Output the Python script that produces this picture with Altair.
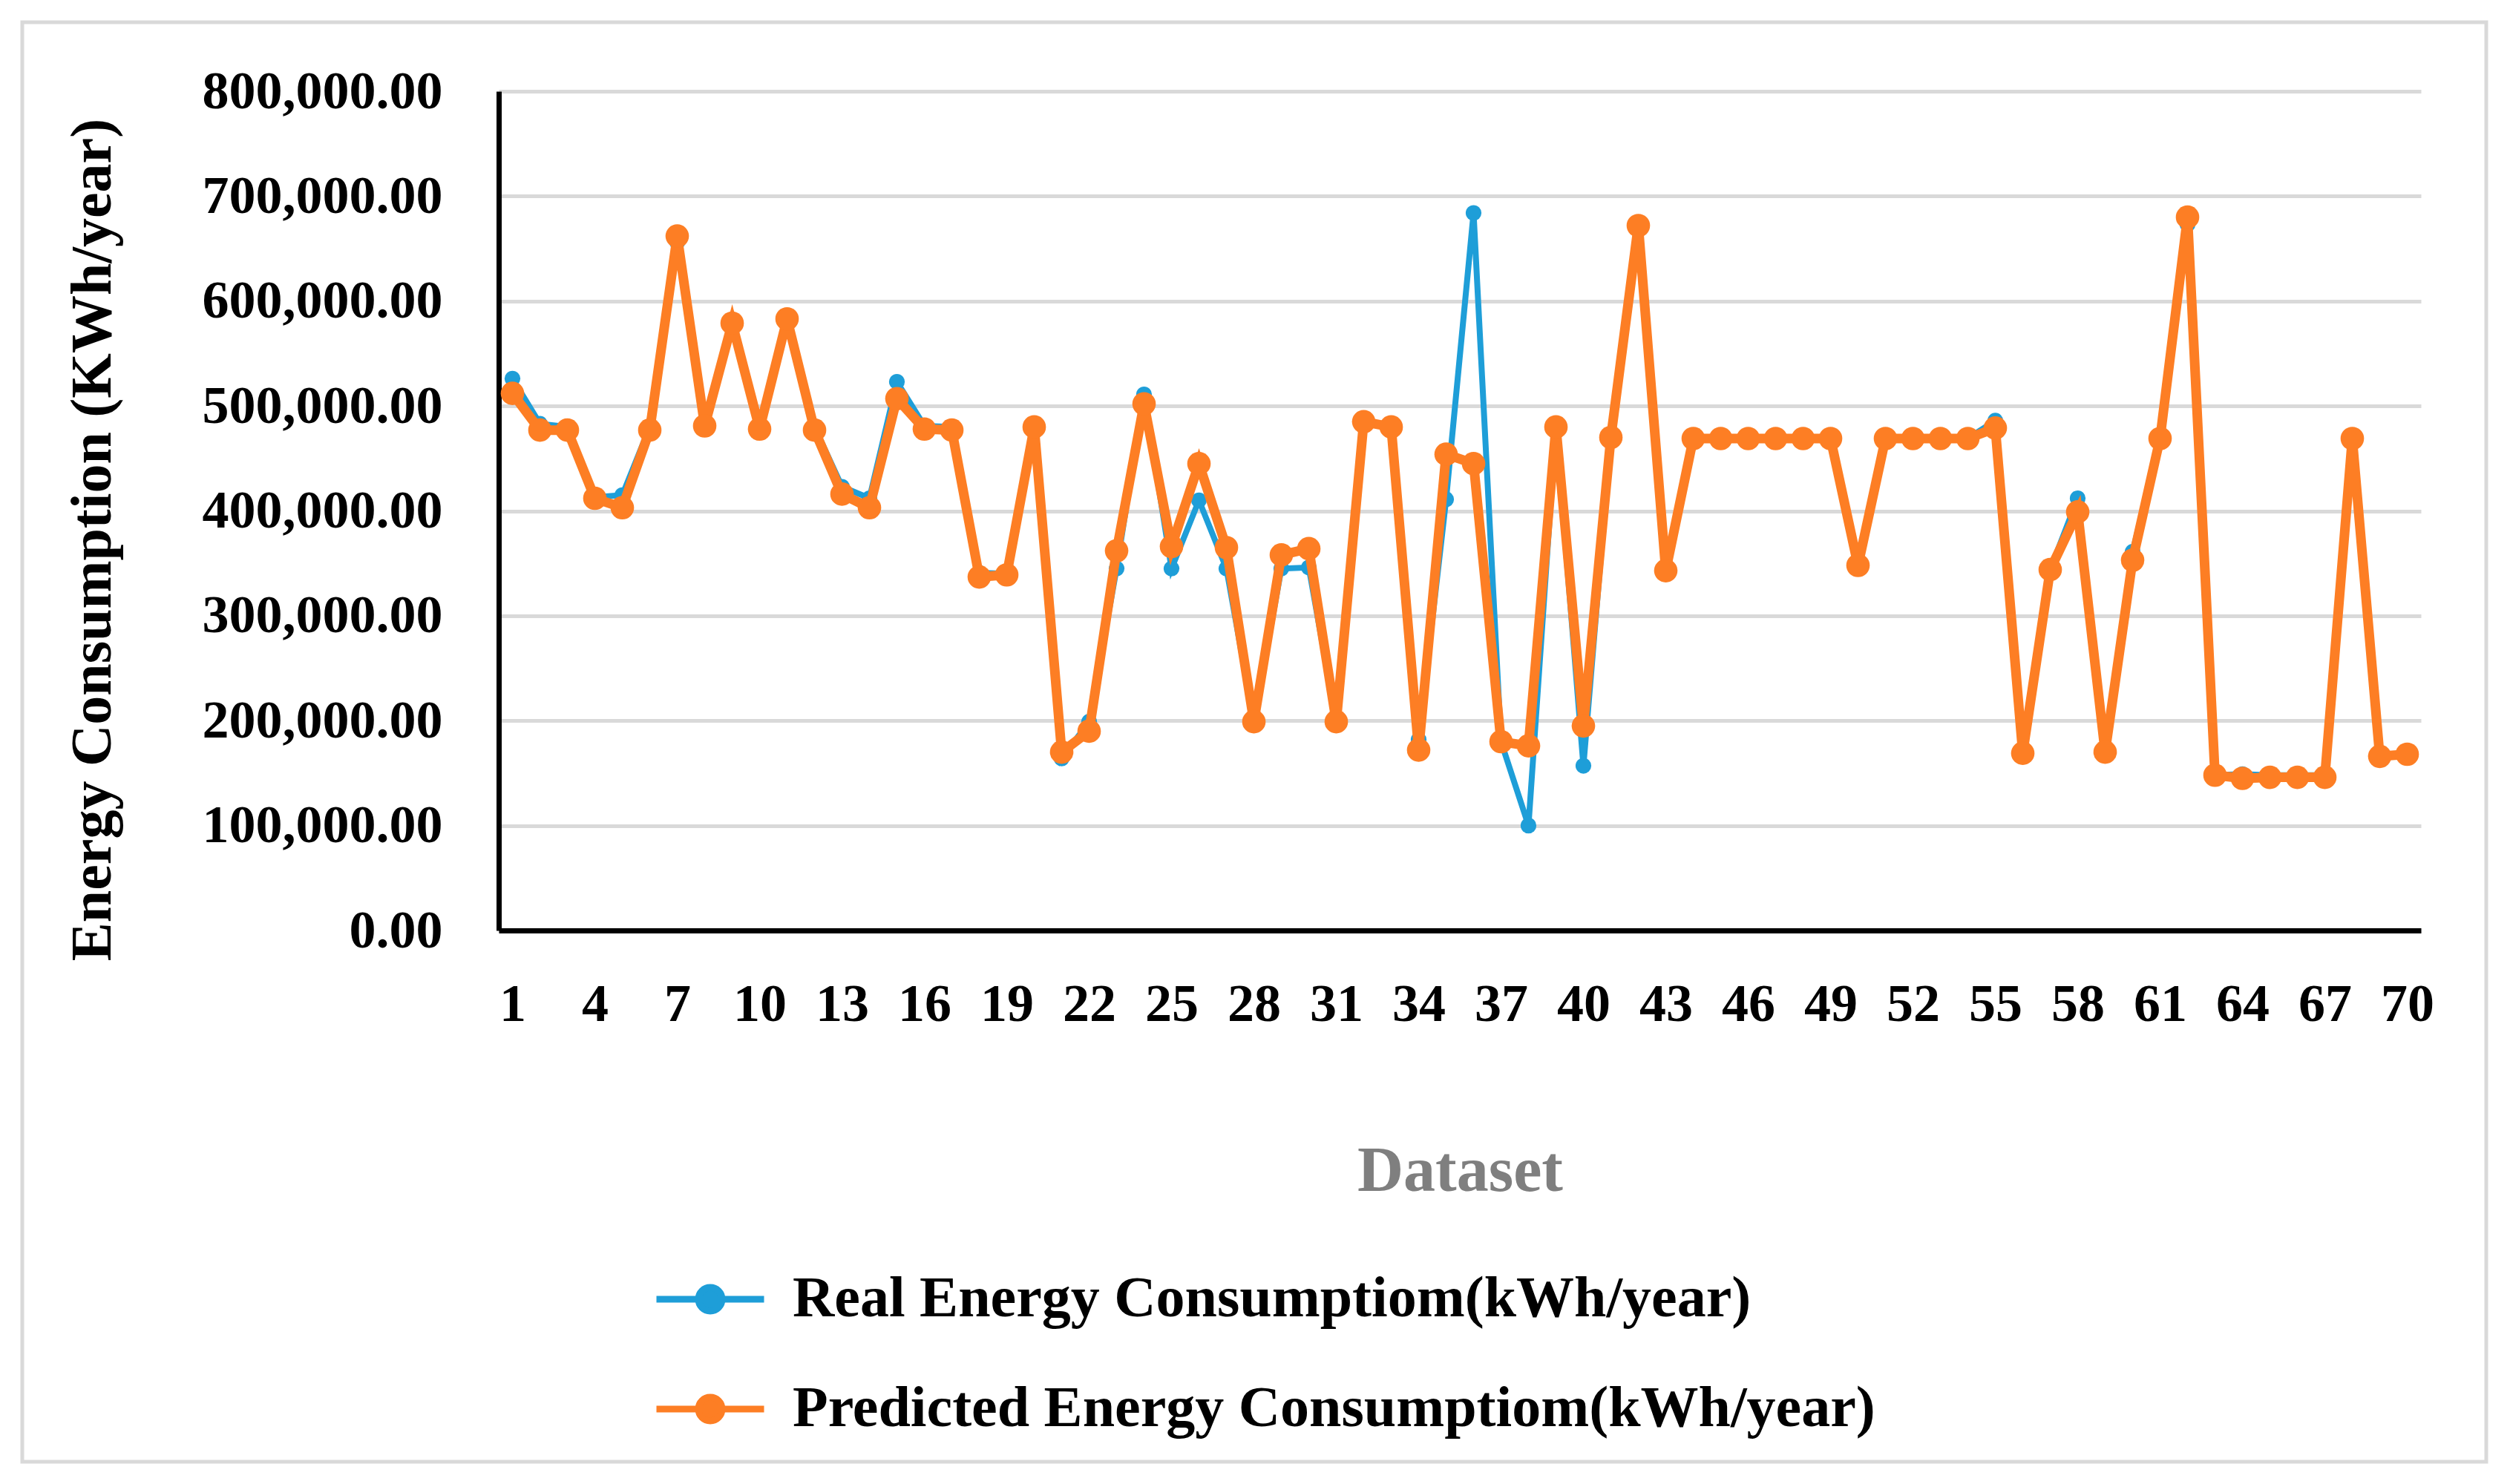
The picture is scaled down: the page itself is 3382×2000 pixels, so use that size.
import altair as alt
import pandas as pd

idx = list(range(1, 71))
real_k = [526, 483, 480, 413, 415, 480, 656, 481, 579, 478,
          583, 480, 423, 412, 523, 481, 480, 341, 340, 480,
          164, 199, 345, 511, 345, 410, 345, 199, 345, 346,
          199, 485, 480, 182, 411, 684, 180, 100, 480, 157,
          470, 672, 343, 469, 469, 469, 469, 469, 469, 345,
          469, 469, 469, 469, 486, 166, 344, 412, 167, 361,
          469, 673, 148, 149, 148, 148, 148, 469, 168, 168]
pred_k = [512, 477, 477, 412, 403, 477, 662, 481, 579, 478,
          583, 477, 416, 403, 507, 478, 477, 337, 339, 480,
          170, 190, 362, 502, 366, 445, 365, 199, 358, 364,
          199, 485, 480, 172, 454, 445, 180, 176, 480, 195,
          470, 672, 343, 469, 469, 469, 469, 469, 469, 348,
          469, 469, 469, 469, 479, 169, 344, 399, 170, 353,
          469, 680, 148, 145, 146, 146, 146, 469, 166, 168]
assert len(real_k) == 70 and len(pred_k) == 70

s_real = "Real Energy Consumptiom(kWh/year)"
s_pred = "Predicted Energy Consumptiom(kWh/year)"
series = [s_real, s_pred]
colors = ["#1E9ED8", "#FD7E24"]
tick_values = list(range(1, 71, 3))
y_ticks = list(range(0, 800001, 100000))

df_real = pd.DataFrame({"idx": idx, "series": s_real, "value": [v * 1000 for v in real_k]})
df_pred = pd.DataFrame({"idx": idx, "series": s_pred, "value": [v * 1000 for v in pred_k]})

FONT = "Liberation Serif"
W, H = 2590, 1131

legend_symbol = "M-1,0H1M0.22,0A0.22,0.22,0,1,1,-0.22,0A0.22,0.22,0,1,1,0.22,0Z"

x_enc = alt.X("idx:O", scale=alt.Scale(padding=0.5),
              axis=alt.Axis(values=tick_values, labelAngle=0, title="Dataset",
                            grid=False, ticks=False, domainColor="black", domainWidth=7,
                            labelFont=FONT, labelFontWeight="bold", labelFontSize=72,
                            labelColor="black", labelPadding=64, labelLimit=1000,
                            titleFont=FONT, titleFontWeight="bold", titleFontSize=86,
                            titleColor="#7F7F7F", titleX=W / 2, titleY=324,
                            titleBaseline="middle", titleAlign="center"))
y_enc = alt.Y("value:Q", scale=alt.Scale(domain=[0, 800000], nice=False),
              axis=alt.Axis(values=y_ticks, format=",.2f",
                            title="Energy Consumption (KWh/year)",
                            grid=True, gridColor="#D9D9D9", gridWidth=5,
                            ticks=False, domainColor="black", domainWidth=7,
                            labelFont=FONT, labelFontWeight="bold", labelFontSize=72,
                            labelColor="black", labelPadding=76, labelLimit=1000,
                            titleFont=FONT, titleFontWeight="bold", titleFontSize=78,
                            titleColor="black", titleX=-547, titleY=604,
                            titleAngle=270, titleAlign="center", titleBaseline="middle"))
color_enc = alt.Color("series:N", scale=alt.Scale(domain=series, range=colors),
                      legend=alt.Legend(title=None, orient="none", legendX=208, legendY=1551,
                                        direction="vertical", symbolType=legend_symbol,
                                        symbolSize=21025, symbolStrokeWidth=9,
                                        labelFont=FONT, labelFontWeight="bold",
                                        labelFontSize=78, labelColor="black",
                                        labelOffset=34, labelLimit=2000,
                                        rowPadding=32, padding=0))

def line_layer(df, sw):
    return alt.Chart(df).mark_line(strokeWidth=sw).encode(x=x_enc, y=y_enc, color=color_enc)

def point_layer(df, size):
    return alt.Chart(df).mark_point(filled=True, opacity=1, size=size).encode(
        x=x_enc, y=y_enc, color=color_enc)

border = alt.Chart(alt.Data(values=[{"b": 1}])).mark_rect(
    fill=None, stroke="#D9D9D9", strokeWidth=5).encode(
    x=alt.value(-642), x2=alt.value(2678), y=alt.value(-93), y2=alt.value(1847))

chart = alt.layer(
    border,
    line_layer(df_real, 8), point_layer(df_real, 450),
    line_layer(df_pred, 13), point_layer(df_pred, 1000),
).properties(
    width=W, height=H,
    autosize=alt.AutoSizeParams(type="none"),
    padding={"left": 664, "top": 115, "right": 110, "bottom": 730},
    background="white",
).configure_view(stroke=None)

chart.save("out.html", embed_options={"renderer": "svg", "actions": False})
